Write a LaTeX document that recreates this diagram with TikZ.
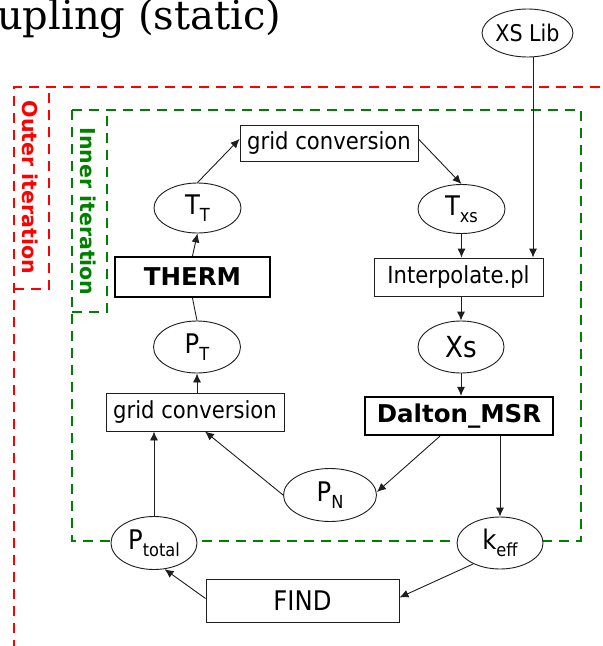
\documentclass[tikz,border=0pt]{standalone}
\usepackage{fontspec}
\setmainfont{DejaVu Sans Condensed}
\newfontfamily\widefont{DejaVu Sans}
\newfontfamily\titlefont{DejaVu Serif}
\usetikzlibrary{shapes.geometric,arrows.meta}
\definecolor{outred}{RGB}{255,0,0}
\definecolor{ingreen}{RGB}{0,128,0}
\definecolor{linegray}{RGB}{30,30,30}
\newcommand{\sbs}[1]{\raisebox{-7pt}{\fontsize{18}{18}\selectfont #1}}
\begin{document}
\begin{tikzpicture}[x=1pt,y=-1pt,
  every node/.style={inner sep=0pt, font=\fontsize{23.5}{25}\selectfont},
  oval/.style={draw=linegray, ellipse, fill=white, line width=0.9pt, font=\fontsize{27}{28}\selectfont},
  box/.style={draw=linegray, rectangle, fill=white, line width=0.9pt},
  boldbox/.style={draw=black, rectangle, fill=white, line width=2.2pt, font=\widefont\bfseries\fontsize{24.5}{26}\selectfont},
  arr/.style={draw=linegray, line width=0.9pt, -{Latex[length=9pt,width=8pt]}},
  plain/.style={draw=linegray, line width=0.9pt},
  reddash/.style={draw=outred, line width=1.8pt, dash pattern=on 10pt off 7pt},
  greendash/.style={draw=ingreen, line width=1.8pt, dash pattern=on 10pt off 7pt}]
\useasboundingbox (0,0) rectangle (603,646);
\fill[white] (0,0) rectangle (603,646);

% title
\node[anchor=base west, font=\titlefont\fontsize{40}{40}\selectfont] (title) at (-3,29) {upling (static)};

% outer iteration frame
\draw[reddash] (14,650) -- (14,87) -- (610,87);
\draw[reddash] (14,289) -- (49,289) -- (49,87);
\node[rotate=-90, text=outred, font=\widefont\bfseries\fontsize{20.5}{22}\selectfont] (outlbl) at (30,187.5) {Outer iteration};

% inner iteration frame
\draw[greendash] (72,110) rectangle (581,541);
\draw[greendash] (72,312) -- (107,312) -- (107,110);
\node[rotate=-90, text=ingreen, font=\widefont\bfseries\fontsize{20.5}{22}\selectfont] (inlbl) at (88,211.5) {Inner iteration};

% nodes
\node[oval, minimum width=89pt, minimum height=48pt, font=\fontsize{23}{24}\selectfont] (xslib) at (527.5,33) {XS Lib};
\node[box, minimum width=178pt, minimum height=36pt] (gctop) at (329,143) {grid conversion};
\node[oval, minimum width=87pt, minimum height=50pt] (tt) at (197.5,208) {T\sbs{T}};
\node[oval, minimum width=87pt, minimum height=49pt] (txs) at (461.5,209) {T\sbs{xs}};
\node[boldbox, minimum width=155pt, minimum height=40pt] (therm) at (192.5,277) {THERM};
\node[box, minimum width=169pt, minimum height=38pt] (interp) at (458.5,277) {Interpolate.pl};
\node[oval, minimum width=87pt, minimum height=52pt] (pt) at (197,347) {P\sbs{T}};
\node[oval, minimum width=86pt, minimum height=52pt, font=\fontsize{29}{30}\selectfont] (xs) at (461,347) {Xs};
\node[box, minimum width=178pt, minimum height=38pt] (gcbot) at (195,412) {grid conversion};
\node[boldbox, minimum width=188pt, minimum height=38pt] (dalton) at (459,416) {Dalton\_MSR};
\node[oval, minimum width=93pt, minimum height=53pt] (pn) at (330,495) {P\sbs{N}};
\node[oval, minimum width=86pt, minimum height=53pt] (ptot) at (154,543) {P\sbs{total}};
\node[oval, minimum width=86pt, minimum height=52pt] (keff) at (500,543) {k\sbs{eff}};
\node[box, minimum width=193pt, minimum height=43pt, font=\fontsize{27}{28}\selectfont] (find) at (302.5,600.5) {FIND};

% connectors
\coordinate (xsline) at (533,0);
\draw[arr] (tt.north) -- ([yshift=4pt]gctop.west);
\draw[arr] ([yshift=4pt]gctop.east) -- (txs.north);
\draw[arr] (therm.north) -- (tt.south);
\draw[plain] (pt.north) -- (therm.south);
\draw[arr] (gcbot.north -| pt.south) -- (pt.south);
\draw[arr] (txs.south) -- (txs.south |- interp.north);
\draw[arr] (xsline |- xslib.south) -- (xsline |- interp.north);
\draw[arr] (interp.south -| xs.north) -- (xs.north);
\draw[arr] (xs.south) -- (xs.south |- dalton.north);
\draw[arr] ([xshift=-19pt]dalton.south) -- ([yshift=3pt]pn.east);
\draw[arr] (keff.north |- dalton.south) -- (keff.north);
\draw[arr] (pn.west) -- ([xshift=10pt]gcbot.south);
\draw[arr] (ptot.north) -- (ptot.north |- gcbot.south);
\draw[arr] (keff.218) -- ([yshift=3pt]find.east);
\draw[arr] ([yshift=2pt]find.west) -- (ptot.292);
\end{tikzpicture}
\end{document}
